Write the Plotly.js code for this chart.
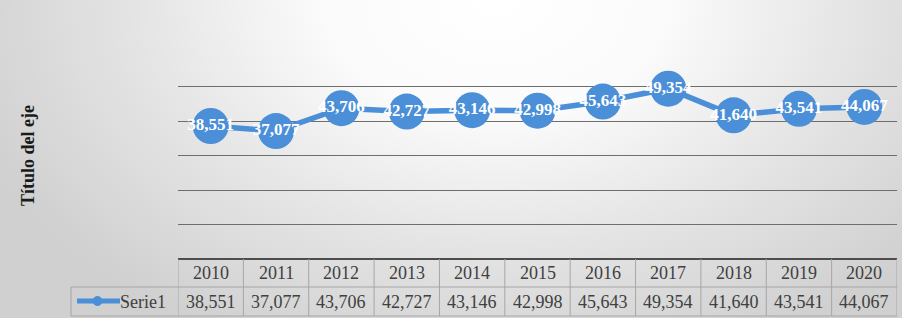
<!DOCTYPE html>
<html><head><meta charset="utf-8">
<script src="https://cdn.plot.ly/plotly-3.0.1.min.js"></script>
<style>
html,body{margin:0;padding:0;width:902px;height:318px;overflow:hidden;background:#d3d4d3;}
#chart{width:902px;height:318px;background:radial-gradient(ellipse 62% 120% at 55% 0%, #ffffff 0%, #fbfbfb 30%, #e4e4e4 65%, #cfd0cf 100%);}
</style></head>
<body><div id="chart"></div>
<script>
const years = ['2010','2011','2012','2013','2014','2015','2016','2017','2018','2019','2020'];
const serie1 = [38551, 37077, 43706, 42727, 43146, 42998, 45643, 49354, 41640, 43541, 44067];
const seriesName = 'Serie1';
const yAxisTitle = 'Título del eje';
const yTicks = [0, 10000, 20000, 30000, 40000, 50000, 60000];

const fmt = v => String(v).replace(/\B(?=(\d{3})+(?!\d))/g, ',');
const labels = serie1.map(fmt);

const blue = '#4a8fd8';
const serif = 'Liberation Serif, Times New Roman, serif';
const textGrey = '#404040';
const border = '#a6a6a6';

// geometry of the plot area in pixels (for converting table rows to paper coords)
const plotH = 207, plotW = 719;
const py = px => -px / plotH;           // px below plot bottom -> paper y
const pxX = px => (px - 178) / plotW;   // absolute px -> paper x

const shapes = [];
const annotations = [];
const n = years.length;

// table: column borders
for (let i = 0; i <= n; i++) {
  shapes.push({type:'line', xref:'x', yref:'paper', x0:i-0.5, x1:i-0.5, y0:py(0), y1:py(57),
    line:{color:border, width:1}});
}
// row divider (extends to legend cell) and bottom
shapes.push({type:'line', xref:'paper', yref:'paper', x0:pxX(71), x1:1, y0:py(28), y1:py(28), line:{color:border, width:1}});
shapes.push({type:'line', xref:'paper', yref:'paper', x0:pxX(71), x1:1, y0:py(57), y1:py(57), line:{color:border, width:1}});
shapes.push({type:'line', xref:'paper', yref:'paper', x0:pxX(71), x1:pxX(71), y0:py(28), y1:py(57), line:{color:border, width:1}});
// legend key inside table
shapes.push({type:'line', xref:'paper', yref:'paper', x0:pxX(77), x1:pxX(120), y0:py(42), y1:py(42), line:{color:blue, width:5}});
shapes.push({type:'circle', xref:'paper', yref:'paper', x0:pxX(93), x1:pxX(102), y0:py(37.5), y1:py(46.5), fillcolor:blue, line:{color:blue, width:1}});

years.forEach((yr, i) => {
  annotations.push({xref:'x', yref:'paper', x:i, y:py(14), text:yr, showarrow:false,
    xanchor:'center', yanchor:'middle', font:{family:serif, size:18, color:textGrey}});
  annotations.push({xref:'x', yref:'paper', x:i, y:py(43), text:labels[i], showarrow:false,
    xanchor:'center', yanchor:'middle', font:{family:serif, size:18, color:textGrey}});
});
annotations.push({xref:'paper', yref:'paper', x:pxX(168), y:py(43), text:seriesName, showarrow:false,
  xanchor:'right', yanchor:'middle', font:{family:serif, size:18, color:textGrey}});

const trace = {
  x: years, y: serie1, name: seriesName, type:'scatter', mode:'lines+markers+text',
  text: labels, textposition:'middle center', cliponaxis:false,
  textfont:{family:serif, size:17, color:'#ffffff', weight:'bold'},
  line:{color:blue, width:5.5},
  marker:{size:36, color:blue, line:{width:0}},
  hoverinfo:'skip', showlegend:false
};

const layout = {
  width:902, height:318,
  margin:{l:178, r:5, t:52, b:59, pad:0},
  paper_bgcolor:'rgba(0,0,0,0)', plot_bgcolor:'rgba(0,0,0,0)',
  showlegend:false,
  xaxis:{type:'category', range:[-0.5, n-0.5], showticklabels:false, showgrid:false, zeroline:false,
    showline:false, ticks:'', fixedrange:true},
  yaxis:{range:[0, 60000], tickvals:yTicks, showticklabels:false, showgrid:true, gridcolor:'#6e6e6e', gridwidth:1,
    zeroline:true, zerolinecolor:'#4d4d4d', zerolinewidth:2, showline:false, ticks:'', fixedrange:true,
    title:{text:yAxisTitle, standoff:137, font:{family:serif, size:18, color:'#1a1a1a', weight:'bold'}}},
  shapes, annotations
};

Plotly.newPlot('chart', [trace], layout, {staticPlot:true, displayModeBar:false});
</script>
</body></html>
